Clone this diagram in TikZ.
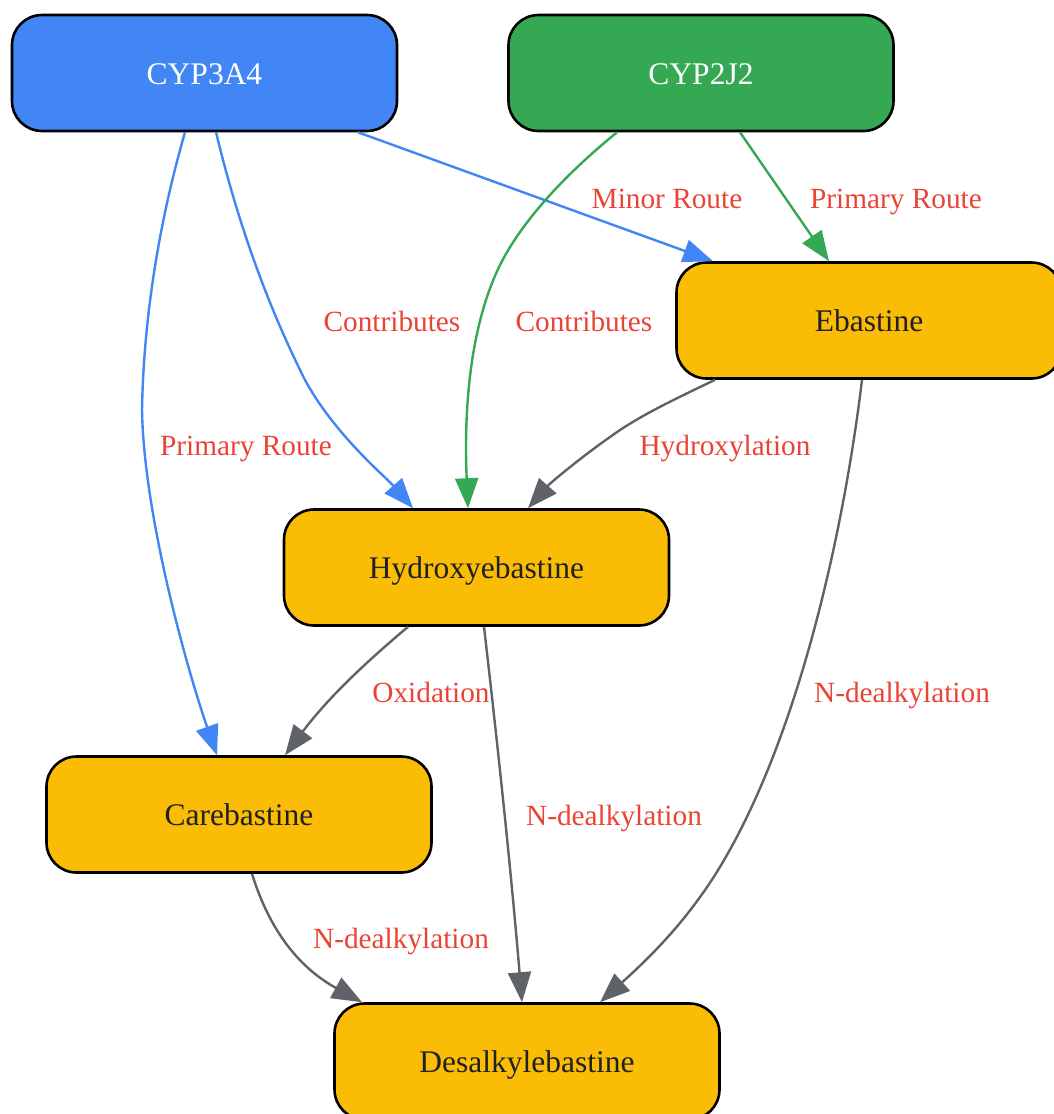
\documentclass[tikz,border=0pt]{standalone}
\usepackage{fontspec}
\setmainfont{Liberation Serif}
\usetikzlibrary{arrows.meta}
\definecolor{gblue}{HTML}{4285F4}
\definecolor{ggreen}{HTML}{34A853}
\definecolor{gyellow}{HTML}{FBBC05}
\definecolor{ggray}{HTML}{5F6368}
\definecolor{gred}{HTML}{EA4335}
\definecolor{gdark}{HTML}{202124}
\tikzset{
  box/.style={draw=black, line width=2.6pt, rounded corners=30pt, minimum width=385pt, minimum height=116pt, inner sep=0pt, text height=22pt, text depth=0pt, font=\fontsize{31.5}{36}\selectfont},
  enzyme/.style={box, text=white},
  metab/.style={box, fill=gyellow, text=gdark},
  edge/.style={line width=2.4pt, -{Triangle[length=30pt,width=23pt]}},
  lbl/.style={text=gred, font=\fontsize{29.3}{34}\selectfont, inner sep=0pt, text height=20pt, text depth=0pt}
}
\begin{document}
\begin{tikzpicture}[x=1pt,y=-1pt]
\useasboundingbox (0,0) rectangle (1054,1114);
\node[enzyme, fill=gblue] (cyp3a4) at (204.5,73) {CYP3A4};
\node[enzyme, fill=ggreen] (cyp2j2) at (701,73) {CYP2J2};
\node[metab] (eba) at (869,320.5) {Ebastine};
\node[metab] (hyd) at (476.5,567.5) {Hydroxyebastine};
\node[metab] (car) at (239,814.5) {Carebastine};
\node[metab] (des) at (527,1061.5) {Desalkylebastine};

% CYP3A4 -> Carebastine
\draw[edge, gblue] ([xshift=-19.5pt]cyp3a4.south) .. controls +(-20,69) and +(2,-110) .. (142,410) .. controls +(2,110) and +(-27,-77) .. ([xshift=-22pt]car.north);
\node[lbl] (l1) at (246,445) {Primary Route};
% CYP3A4 -> Hydroxyebastine
\draw[edge, gblue] ([xshift=11.5pt]cyp3a4.south) .. controls +(24,99) and +(-35,-70) .. (305,380) .. controls +(30,55) and +(-28,-32) .. ([xshift=-63.5pt]hyd.north);
\node[lbl] (l2) at (392,321) {Contributes};
% CYP3A4 -> Ebastine
\draw[edge, gblue] ([xshift=153.5pt]cyp3a4.south) -- ([xshift=-156pt]eba.north);
\node[lbl] (l3) at (667,198) {Minor Route};
% CYP2J2 -> Hydroxyebastine
\draw[edge, ggreen] ([xshift=-84pt]cyp2j2.south) .. controls +(-42,34) and +(25,-50) .. (500,265) .. controls +(-32,65) and +(-4,-90) .. ([xshift=-8.5pt]hyd.north);
\node[lbl] (l4) at (584,321) {Contributes};
% CYP2J2 -> Ebastine
\draw[edge, ggreen] ([xshift=39pt]cyp2j2.south) -- ([xshift=-40pt]eba.north);
\node[lbl] (l5) at (896,198) {Primary Route};
% Ebastine -> Hydroxyebastine
\draw[edge, ggray] ([xshift=-154pt]eba.south) .. controls +(-35,17) and +(30,-22) .. (610,437) .. controls +(-30,21) and +(22,-25) .. ([xshift=51.5pt]hyd.north);
\node[lbl] (l6) at (725,445) {Hydroxylation};
% Ebastine -> Desalkylebastine
\draw[edge, ggray] ([xshift=-7pt]eba.south) .. controls +(-17,142) and +(85,-135) .. (715,875) .. controls +(-35,55) and +(40,-36) .. ([xshift=73pt]des.north);
\node[lbl] (l7) at (902,692) {N-dealkylation};
% Hydroxyebastine -> Carebastine
\draw[edge, ggray] ([xshift=-68.5pt]hyd.south) .. controls +(-38,32) and +(45,-60) .. ([xshift=46pt]car.north);
\node[lbl] (l8) at (431,692) {Oxidation};
% Hydroxyebastine -> Desalkylebastine
\draw[edge, ggray] ([xshift=7.5pt]hyd.south) .. controls +(11,95) and +(-12,-144) .. ([xshift=-5pt]des.north);
\node[lbl] (l9) at (614,815) {N-dealkylation};
% Carebastine -> Desalkylebastine
\draw[edge, ggray] ([xshift=13pt]car.south) .. controls +(18,58) and +(-62,-34) .. ([xshift=-165pt]des.north);
\node[lbl] (l10) at (401,938) {N-dealkylation};
\end{tikzpicture}
\end{document}
